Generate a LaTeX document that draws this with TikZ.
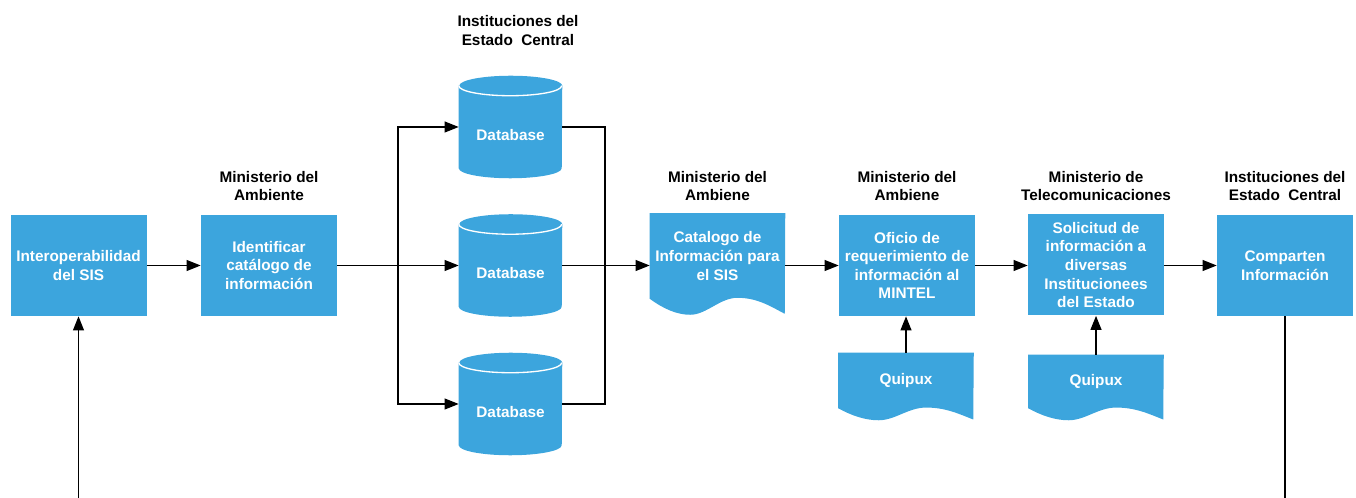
\documentclass[tikz,border=0pt]{standalone}
\usepackage{fontspec}
\setmainfont{Liberation Sans}
\usetikzlibrary{calc,arrows.meta,backgrounds}
\definecolor{boxblue}{RGB}{60,165,221}
% database cylinder behind a named node
\def\dbshape(#1){%
  \begin{scope}[on background layer]
  \fill[boxblue] ([yshift=-7.5pt]#1.north west) -- ([yshift=7.5pt]#1.south west)
    arc[start angle=180,end angle=360,x radius=38.625pt,y radius=7.5pt]
    -- ([yshift=-7.5pt]#1.north east)
    arc[start angle=0,end angle=180,x radius=38.625pt,y radius=7.5pt] -- cycle;
  \draw[white,line width=1pt] ([yshift=-7.5pt]#1.north west)
    arc[start angle=180,end angle=360,x radius=38.625pt,y radius=7.5pt];
  \end{scope}}
% document sheet with a wavy lower edge
\def\docshape(#1,#2,#3){%
  \begin{scope}[on background layer]
  \fill[boxblue] (#1.north west) -- (#1.south west)
    .. controls ($(#1.south west)+(0.1*#2,0.62*#3)$) and ($(#1.south west)+(0.2*#2,#3)$) .. ($(#1.south west)+(0.3*#2,#3)$)
    .. controls ($(#1.south west)+(0.42*#2,#3)$) and ($(#1.south west)+(0.52*#2,-0.06*#3)$) .. ($(#1.south west)+(0.65*#2,-0.06*#3)$)
    .. controls ($(#1.south west)+(0.8*#2,-0.06*#3)$) and ($(#1.south west)+(0.9*#2,0.5*#3)$) .. ($(#1.south west)+(#2,0.94*#3)$)
    -- (#1.north east) -- cycle;
  \end{scope}}

\begin{document}
\begin{tikzpicture}[x=0.75pt,y=-0.75pt,
  box/.style={fill=boxblue,text=white,font=\bfseries\fontsize{11.5}{13.9}\selectfont,align=center,inner sep=0,minimum width=102pt,minimum height=75.75pt},
  dbnode/.style={text=white,font=\bfseries\fontsize{11.5}{13.9}\selectfont,inner sep=0,minimum width=77.25pt,minimum height=76.5pt,text height=20pt,text depth=0pt},
  docnode/.style={text=white,font=\bfseries\fontsize{11.5}{13.9}\selectfont,align=center,inner sep=0,minimum width=101.25pt},
  lbl/.style={font=\bfseries\fontsize{11.5}{13.6}\selectfont,align=center,inner sep=0},
  ln/.style={line width=1.4pt},
  arr/.style={line width=1.4pt,-{Triangle[length=10.5pt,width=8pt]}}]
	%%%%% START %%%%%
	\useasboundingbox (0,0) rectangle (1356,498);
	
	\node[box] (b1) at (78.5,265.5) {Interoperabilidad\\del SIS};
	
	\node[box] (b2) at (269,265.5) {Identificar\\catálogo de\\información};
	\node[lbl] (h2) at (269,186) {Ministerio del\\Ambiente};
	
	\node[lbl] (h3) at (518,30.5) {Instituciones del\\Estado~~Central};
	\node[dbnode] (db1) at (510.5,127) {Database};
	\node[dbnode] (db2) at (510.5,265.5) {Database};
	\node[dbnode] (db3) at (510.5,404) {Database};
	\dbshape(db1) \dbshape(db2) \dbshape(db3)
	
	\node[docnode,minimum height=63.75pt] (doc1) at (717.5,256) {Catalogo de\\Información para\\el SIS};
	\node[lbl] (h4) at (717.5,186) {Ministerio del\\Ambiene};
	\docshape(doc1,135,16)
	
	\node[box] (b4) at (907,265.5) {Oficio de\\requerimiento de\\información al\\MINTEL};
	\node[lbl] (h5) at (907,186) {Ministerio del\\Ambiene};
	\node[docnode,minimum height=41.25pt] (q1) at (906,380.5) {Quipux};
	\docshape(q1,135,12)
	
	\node[box] (b5) at (1096,265) {Solicitud de\\información a\\diversas\\Institucionees\\del Estado};
	\node[lbl] (h6) at (1096,186) {Ministerio de\\Telecomunicaciones};
	\node[docnode,minimum height=39.75pt] (q2) at (1096,381.5) {Quipux};
	\docshape(q2,135,12)
	
	\node[box] (b6) at (1285,265.5) {Comparten\\Información};
	\node[lbl] (h7) at (1285,186) {Instituciones del\\Estado~~Central};
	
	% connectors
	\coordinate (split) at (398,265.5);
	\coordinate (join) at (605,265.5);
	\coordinate (loopL) at (78.5,498);
	\coordinate (loopR) at (1285,498);
	
	\draw[arr] (b1) -- (b2);
	\draw[ln] (b2) -- (split);
	\draw[arr] (split) |- (db1);
	\draw[arr] (split) -- (db2);
	\draw[arr] (split) |- (db3);
	\draw[ln] (db1) -| (join);
	\draw[ln] (db3) -| (join);
	\draw[arr] (db2) -- (db2 -| doc1.west);
	\draw[arr] (doc1.east |- b4) -- (b4);
	\draw[arr] (b4) -- (b4 -| b5.west);
	\draw[arr] (b5.east |- b6) -- (b6);
	\draw[arr] (q1.north) -- (q1.north |- b4.south);
	\draw[arr] (q2) -- (b5);
	\draw[ln] (b6) -- (loopR);
	\draw[arr] (loopL) -- (b1);
	%%%%% END %%%%%
\end{tikzpicture}
\end{document}
